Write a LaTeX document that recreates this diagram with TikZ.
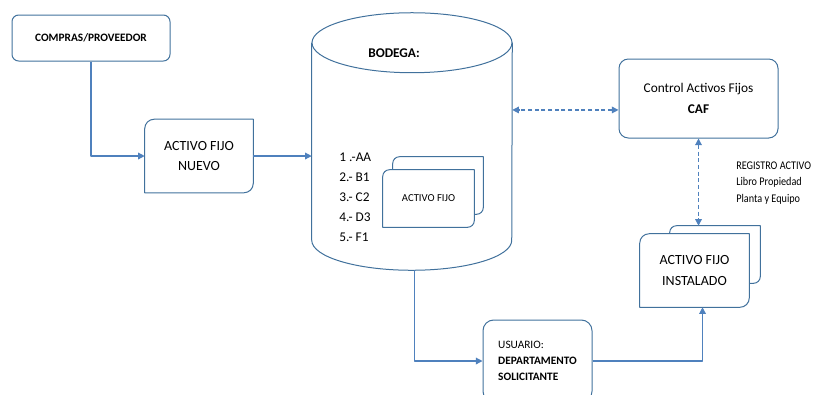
\documentclass[tikz,border=0pt]{standalone}
\usepackage{fontspec}
\setmainfont{Carlito}
\usetikzlibrary{arrows.meta}
\definecolor{boxblue}{RGB}{65,113,156}
\definecolor{linkblue}{RGB}{79,129,189}
\begin{document}
\begin{tikzpicture}[x=0.75pt,y=-0.75pt,>={Triangle[length=5pt,width=5pt]}, line join=round,
    boxline/.style={draw=boxblue,line width=0.75pt},
    link/.style={draw=linkblue,line width=0.9pt},
    plate/.style={inner sep=0pt,align=center}]
            \def\diag[#1]#2{\draw[boxline] ([yshift=-#2]#1.north west) arc[start angle=180,end angle=90,radius=#2] -- (#1.north east) -- ([yshift=#2]#1.south east) arc[start angle=0,end angle=-90,radius=#2] -- (#1.south west) -- cycle;}
            \useasboundingbox (0,0) rectangle (816,394);
            % cajas
            \node[boxline,rounded corners=5pt,minimum width=118.5pt,minimum height=34.5pt,font=\bfseries\fontsize{8.5}{10}\selectfont] (compras) at (91,38) {COMPRAS/PROVEEDOR};
            \node[plate,minimum width=81pt,minimum height=54.75pt,font=\fontsize{10.5}{15.5}\selectfont] (nuevo) at (199,156) {ACTIVO FIJO\\NUEVO};
            \diag[nuevo]{7pt}
            \node[boxline,rounded corners=7pt,minimum width=119.25pt,minimum height=59.25pt,align=center,font=\fontsize{10}{15.5}\selectfont] (caf) at (698.5,98.5) {Control Activos Fijos\\\textbf{CAF}};
            \node[boxline,rounded corners=8pt,minimum width=81.75pt,minimum height=61.5pt,align=left,font=\fontsize{8.5}{12}\selectfont] (usuario) at (537.5,361) {USUARIO:\\\textbf{DEPARTAMENTO}\\\textbf{SOLICITANTE}};
            % bodega
            \node[minimum width=150pt,minimum height=147.75pt] (bodega) at (412,141.5) {};
            \draw[boxline] (bodega.north west) -- (bodega.south west) arc[start angle=180,end angle=360,x radius=75pt,y radius=22.5pt] -- (bodega.north east);
            \draw[boxline] (bodega.north) ellipse[x radius=75pt,y radius=22.5pt];
            \node[font=\bfseries\fontsize{10}{12}\selectfont] (titulo) at (394,53) {BODEGA:};
            \foreach \t [count=\i] in {1 .-AA,2.- B1,3.- C2,4.- D3,5.- F1}
                \node[anchor=west,inner sep=0pt,font=\fontsize{10}{12}\selectfont] (item\i) at (339,{137+20*\i}) {\t};
            \node[plate,minimum width=67.5pt,minimum height=42.75pt] (fijoback) at (438,185.5) {};
            \diag[fijoback]{5pt}
            \node[plate,fill=white,minimum width=68.25pt,minimum height=42.75pt,font=\fontsize{8}{10}\selectfont] (fijo) at (428.5,198.5) {ACTIVO FIJO};
            \diag[fijo]{5pt}
            % instalado
            \node[plate,minimum width=67.5pt,minimum height=42.75pt] (instback) at (715,254.5) {};
            \diag[instback]{5pt}
            \node[plate,fill=white,minimum width=81.75pt,minimum height=54.75pt,font=\fontsize{10.5}{15.5}\selectfont] (instalado) at (694.5,270.5) {ACTIVO FIJO\\INSTALADO};
            \diag[instalado]{7pt}
            \node[anchor=west,inner sep=0pt,align=left,font=\fontsize{8.8}{12.4}\selectfont\addfontfeatures{FakeStretch=0.87}] (registro) at (736,183) {REGISTRO ACTIVO\\Libro Propiedad\\Planta y Equipo};
            % flechas
            \draw[link,->] (compras.south) |- (nuevo.west);
            \draw[link,->] (nuevo.east) -- (nuevo.east -| bodega.west);
            \draw[link,<->,dash pattern=on 3pt off 2pt] ([yshift=-8.6pt]caf.west) -- ([yshift=-8.6pt]caf.west -| bodega.east);
            \draw[link,<->,dash pattern=on 3pt off 2pt] (caf.south) -- (caf.south |- instback.north);
            \coordinate (base) at ([xshift=2pt,yshift=-22.5pt]bodega.south);
            \draw[link,->] (base) |- (usuario.west);
            \draw[link,->] (usuario.east) -| ([xshift=6pt]instalado.south);
        \end{tikzpicture}
\end{document}
